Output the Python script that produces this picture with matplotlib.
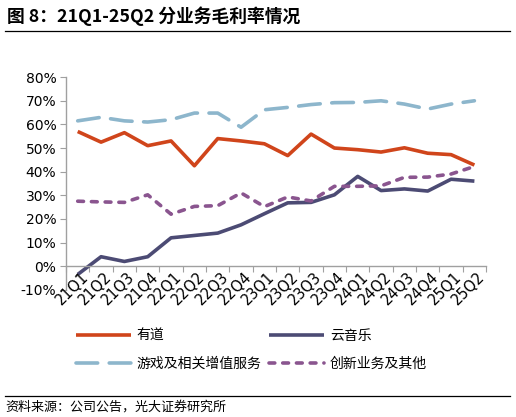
import matplotlib
matplotlib.use("Agg")
import matplotlib.pyplot as plt
from matplotlib.lines import Line2D

plt.rcParams['font.family'] = ['Noto Sans CJK SC', 'DejaVu Sans']

quarters = ['21Q1', '21Q2', '21Q3', '21Q4', '22Q1', '22Q2', '22Q3', '22Q4',
            '23Q1', '23Q2', '23Q3', '23Q4', '24Q1', '24Q2', '24Q3', '24Q4',
            '25Q1', '25Q2']

youdao = [57.0, 52.5, 56.5, 51.0, 53.0, 42.5, 54.0, 53.0, 51.8, 46.8,
          55.9, 50.0, 49.3, 48.3, 50.1, 47.8, 47.2, 42.8]
music = [-3.5, 4.0, 2.0, 4.0, 12.0, 13.0, 14.0, 17.5, 22.2, 26.8,
         27.0, 30.2, 38.0, 32.0, 32.7, 31.8, 36.8, 36.0]
games = [61.5, 63.0, 61.5, 61.0, 62.0, 64.8, 64.8, 58.8, 66.2, 67.2,
         68.4, 69.2, 69.3, 70.0, 68.6, 66.5, 68.6, 70.0]
innov = [27.5, 27.2, 27.0, 30.2, 22.0, 25.3, 25.6, 31.0, 25.2, 29.3,
         27.6, 33.8, 33.8, 34.0, 37.6, 37.7, 39.0, 42.2]

labels = ['有道', '云音乐', '游戏及相关增值服务', '创新业务及其他']
colors = ['#D0451B', '#4C4B74', '#8DB6CC', '#8A558F']

fig = plt.figure(figsize=(5.16, 4.17), dpi=100)
ax = fig.add_axes([0.128, 0.305, 0.814, 0.51])

x = list(range(len(quarters)))
lw = 2.6
l1, = ax.plot(x, youdao, color=colors[0], lw=lw, solid_capstyle='butt', label=labels[0])
l2, = ax.plot(x, music, color=colors[1], lw=lw, solid_capstyle='butt', label=labels[1])
l3, = ax.plot(x, games, color=colors[2], lw=lw, dashes=(6, 3.2), dash_capstyle='round', label=labels[2])
l4, = ax.plot(x, innov, color=colors[3], lw=lw, dashes=(1.6, 2.2), dash_capstyle='round', label=labels[3])

ax.set_xlim(-0.5, len(quarters) - 0.5)
ax.set_ylim(-10, 80)
ax.set_yticks(range(-10, 81, 10))
ax.set_yticklabels([f'{v}%' for v in range(-10, 81, 10)], fontsize=10,
                   family=['DejaVu Sans'])

# x axis sits on the zero line
ax.spines['bottom'].set_position(('data', 0))
for s in ['top', 'right']:
    ax.spines[s].set_visible(False)
for s in ['left', 'bottom']:
    ax.spines[s].set_color('#A0A0A0')
    ax.spines[s].set_linewidth(1.0)

ax.set_xticks([i + 0.5 for i in range(-1, len(quarters))], minor=False)
ax.set_xticklabels([])
ax.tick_params(axis='x', which='major', direction='out', length=4, color='#A0A0A0')
ax.tick_params(axis='y', direction='out', length=4, color='#A0A0A0', pad=3)

for i, q in enumerate(quarters):
    ax.text(i + 0.12, -1.2, q, rotation=45, ha='right', va='top',
            fontsize=10.5, family=['DejaVu Sans'], rotation_mode='anchor')

fig.legend(handles=[l1, l3, l2, l4], ncol=2, loc='center',
           bbox_to_anchor=(0.487, 0.161), frameon=False, fontsize=10,
           handlelength=4.0, handletextpad=0.4, columnspacing=0.5,
           labelspacing=1.0)

# title and source
fig.text(0.014, 0.962, '图 8：21Q1-25Q2 分业务毛利率情况', fontsize=12.8,
         fontweight='bold', ha='left', va='center')
fig.add_artist(Line2D([0.01, 0.988], [0.925, 0.925], color='black', lw=0.9))
fig.add_artist(Line2D([0.01, 0.988], [0.05, 0.05], color='black', lw=0.9))
fig.text(0.01, 0.025, '资料来源：公司公告，光大证券研究所', fontsize=9.4,
         ha='left', va='center')

fig.savefig('out.png', dpi=100)
